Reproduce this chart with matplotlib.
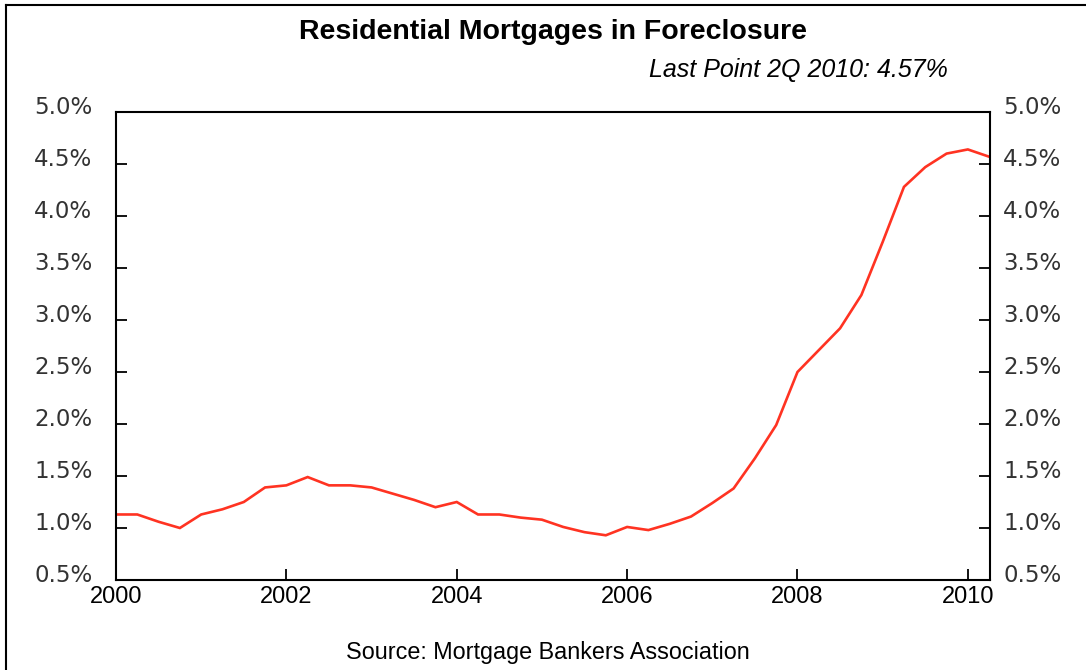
import numpy as np
import matplotlib.pyplot as plt
import matplotlib.transforms as mtransforms
from matplotlib.lines import Line2D

###data: quarterly foreclosure rate, 2000Q1 - 2010Q2###
start_year = 2000
rate = [1.13, 1.13, 1.06, 1.00,
        1.13, 1.18, 1.25, 1.39,
        1.41, 1.49, 1.41, 1.41,
        1.39, 1.33, 1.27, 1.20,
        1.25, 1.13, 1.13, 1.10,
        1.08, 1.01, 0.96, 0.93,
        1.01, 0.98, 1.04, 1.11,
        1.24, 1.38, 1.67, 1.99,
        2.50, 2.71, 2.92, 3.24,
        3.75, 4.28, 4.47, 4.60,
        4.64, 4.57]
year_ticks = [2000, 2002, 2004, 2006, 2008, 2010]
pct_ticks = [0.5, 1.0, 1.5, 2.0, 2.5, 3.0, 3.5, 4.0, 4.5, 5.0]
pct_labels = ['%.1f%%' % v for v in pct_ticks]

title = 'Residential Mortgages in Foreclosure'
subtitle = 'Last Point 2Q 2010: 4.57%'
source = 'Source: Mortgage Bankers Association'

quarters = start_year + np.arange(len(rate)) * 0.25

###figure###
fig = plt.figure(figsize=(10.86, 6.70), dpi=100)
ax = fig.add_axes([116/1086, 1-580/670, (990-116)/1086, (580-112)/670])

ax.plot(quarters, rate, color='#ff3322', lw=1.9, solid_joinstyle='miter')
ax.set_xlim(2000, 2010.26)
ax.set_ylim(0.5, 5.0)

ax.set_xticks(year_ticks)
ax.set_xticklabels([str(y) for y in year_ticks], family='Liberation Sans', fontsize=17)
ax.set_yticks(pct_ticks)
ax.set_yticklabels(pct_labels, family='DejaVu Sans', fontsize=16.5, color='#333333')
ax.tick_params(axis='x', direction='in', length=8, width=1.3, pad=4, top=False)
ax.tick_params(axis='y', direction='in', length=8, width=1.3, pad=17)

for s in ax.spines.values():
	s.set_linewidth(1.5)
	s.set_color('black')

# right side ticks and labels
ax2 = ax.twinx()
ax2.set_ylim(0.5, 5.0)
ax2.set_yticks(pct_ticks)
ax2.set_yticklabels(pct_labels, family='DejaVu Sans', fontsize=16.5, color='#333333')
ax2.tick_params(axis='y', direction='in', length=8, width=1.3, pad=9.5)
for s in ax2.spines.values():
	s.set_visible(False)

# labels sit a bit above their ticks
offset = mtransforms.ScaledTranslation(0, 7/100, fig.dpi_scale_trans)
for lbl in ax.get_yticklabels() + ax2.get_yticklabels():
	lbl.set_transform(lbl.get_transform() + offset)

###texts###
fig.text(553/1086, 1-32/670, title, ha='center', va='center',
         family='Liberation Sans', fontsize=20.5, fontweight='bold')
fig.text(948/1086, 1-70/670, subtitle, ha='right', va='center',
         family='Liberation Sans', fontsize=18, style='italic')
fig.text(548/1086, 1-652/670, source, ha='center', va='center',
         family='Liberation Sans', fontsize=16.8)

###outer frame (top and left edge)###
fig.add_artist(Line2D([6/1086, 1.0], [1-5/670, 1-5/670], color='black', lw=1.5))
fig.add_artist(Line2D([6/1086, 6/1086], [0.0, 1-5/670], color='black', lw=1.5))

plt.savefig('out.png', format='png', dpi=100)
